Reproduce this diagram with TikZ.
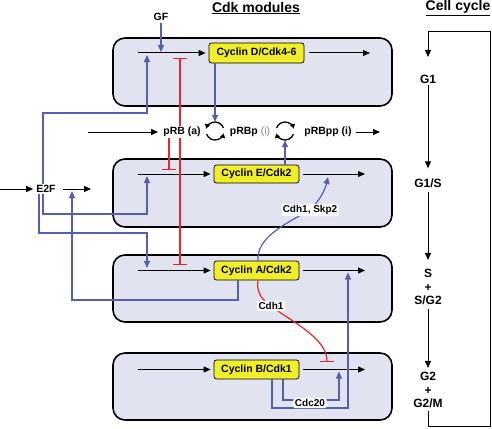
\documentclass[tikz,border=0pt]{standalone}
\usepackage{fontspec}
\setmainfont{Liberation Sans}
\usetikzlibrary{arrows.meta}
\definecolor{boxfill}{RGB}{225,227,241}
\definecolor{lblue}{RGB}{85,95,170}
\definecolor{lred}{RGB}{232,40,40}
\definecolor{cyel}{RGB}{240,238,40}
\begin{document}
\begin{tikzpicture}[x=1pt,y=-1pt,
  module/.style={draw=black, line width=1.6pt, fill=boxfill, rounded corners=12pt, minimum width=279pt, inner sep=0pt},
  cyc/.style={draw=black, line width=0.8pt, fill=cyel, rounded corners=2.5pt, font=\bfseries\fontsize{10.5}{12}\selectfont, minimum width=85pt, minimum height=19pt, inner sep=0pt},
  txt/.style={font=\bfseries\fontsize{10.5}{13.5}\selectfont, inner sep=1pt},
  phase/.style={font=\bfseries\fontsize{12}{13.5}\selectfont, inner sep=1pt, align=center},
  lbl/.style={font=\bfseries\fontsize{10}{12}\selectfont, fill=white, rounded corners=2pt, inner sep=1.5pt},
  blk/.style={draw=black, -{Triangle[length=7pt,width=6pt]}, line width=1pt},
  blu/.style={draw=lblue, -{Triangle[length=7pt,width=6pt]}, line width=1.2pt},
  inh/.style={draw=lred, -{Bar[width=14pt]}, line width=1.2pt},
  cyca/.style={draw=black, line width=1.3pt, -{Triangle[length=4.5pt,width=5pt]}},
  ttl/.style={font=\bfseries\fontsize{14}{16}\selectfont, inner sep=0pt}
]
\useasboundingbox (0,0) rectangle (492,428);

% titles
\node[ttl] (t1) at (256,8) {\underline{Cdk modules}};
\node[ttl] (t2) at (458,8) {\underline{Cell cycle}};

% module boxes
\node[module, minimum height=68pt] (m1) at (252.5,72) {};
\node[module, minimum height=68pt] (m2) at (252.5,193) {};
\node[module, minimum height=67pt] (m3) at (252.5,288.5) {};
\node[module, minimum height=67pt] (m4) at (252.5,386.5) {};

% cyclin nodes
\node[cyc, minimum width=95pt, minimum height=20pt] (cD) at (256.5,53) {Cyclin D/Cdk4-6};
\node[cyc, minimum height=18pt] (cE) at (256.5,174) {Cyclin E/Cdk2};
\node[cyc] (cA) at (256.5,270.5) {Cyclin A/Cdk2};
\node[cyc] (cB) at (256.5,369.5) {Cyclin B/Cdk1};

% coordinates
\coordinate (l1) at (138,53);
\coordinate (l2) at (138,174);
\coordinate (l3) at (138,270.5);
\coordinate (l4) at (138,369.5);
\coordinate (r1) at (370,53);
\coordinate (r2) at (365,174);
\coordinate (r3) at (365,270.5);
\coordinate (r4) at (365,369.5);

% horizontal arrows in modules
\draw[blk, shorten >=3pt] (l1) -- (cD);
\draw[blk, shorten >=3pt] (l2) -- (cE);
\draw[blk, shorten >=3pt] (l3) -- (cA);
\draw[blk, shorten >=3pt] (l4) -- (cB);
\draw[blk, shorten <=5pt] (cD) -- (r1);
\draw[blk, shorten <=4pt] (cE) -- (r2);
\draw[blk, shorten <=4pt] (cA) -- (r3);
\draw[blk, shorten <=4pt] (cB) -- (r4);

% GF
\node[txt] (gf) at (161,17) {GF};
\coordinate (gfT) at (161,52);
\draw[blu, shorten <=1pt] (gf) -- (gfT);

% E2F
\node[txt] (e2f) at (46,189) {E2F};
\coordinate (e2fin) at (0,189);
\coordinate (e2fout) at (91,189);
\draw[blk, shorten >=2pt] (e2fin) -- (e2f);
\draw[blk, shorten <=6pt] (e2f) -- (e2fout);

\coordinate (a1) at (147,55);
\coordinate (a2) at (147,176);
\coordinate (a3) at (147,268);
\coordinate (a4) at (72,191);
\draw[blu] (43,0 |- e2f.north) -- (43,113) -- (147,113) -- (a1);
\draw[blu] (43,0 |- e2f.south) -- (43,214) -- (147,214) -- (a2);
\draw[blu] (39,0 |- e2f.south) -- (39,233) -- (147,233) -- (a3);
\draw[blu] (238,0 |- cA.south) -- (238,300) -- (72,300) -- (a4);

% pRB row
\coordinate (pin) at (88,132);
\coordinate (pout) at (380,132);
\node[txt, fill=white] (prb) at (182,132) {pRB (a)};
\node[circle, minimum size=18pt, inner sep=0pt] (s1) at (215,131) {};
\node[txt] (prbp) at (250,132) {pRBp {\mdseries\color{gray}(i)}};
\node[circle, minimum size=18pt, inner sep=0pt] (s2) at (285,131) {};
\node[txt] (prbpp) at (328,132) {pRBpp (i)};
\draw[blk, shorten >=4pt] (pin) -- (prb);
\draw[blk, shorten <=3pt] (prbpp) -- (pout);

\draw[cyca] (s1.center) ++(160:9) arc[start angle=160, end angle=15, radius=9];
\draw[cyca] (s1.center) ++(-20:9) arc[start angle=-20, end angle=-165, radius=9];
\draw[cyca] (s2.center) ++(20:9) arc[start angle=20, end angle=165, radius=9];
\draw[cyca] (s2.center) ++(-160:9) arc[start angle=-160, end angle=-15, radius=9];

\draw[blu] (cD.south -| s1) -- (s1.north);
\draw[blu] (cE.north -| s2) -- (s2.south);

% pRB inhibitions
\coordinate (i1) at (180,58);
\coordinate (i2) at (169,170);
\coordinate (i3) at (180,265);
\draw[inh] (180,0 |- prb.north) -- (i1);
\draw[inh] (169,0 |- prb.south) -- (i2);
\draw[inh] (180,0 |- prb.south) -- (i3);

% Cdh1, Skp2
\coordinate (skc) at (310,210);
\coordinate (sk) at (328,177);
\draw[blu] (258,0 |- cA.north) .. controls (256,238) and (285,224) .. (skc) .. controls (320,200) and (325,190) .. (sk);
\node[lbl] (skp) at (skc) {Cdh1, Skp2};

% Cdh1 inhibition
\coordinate (cdhc) at (271,306);
\coordinate (tb) at (327,362);
\draw[inh] (258,0 |- cA.south) .. controls (256,292) and (262,300) .. (cdhc) .. controls (292,322) and (327,338) .. (tb);
\node[lbl] (cdh) at (cdhc) {Cdh1};

% Cdc20
\coordinate (o3) at (348,272.5);
\coordinate (o4) at (339,371.5);
\draw[blu] (272,0 |- cB.south) -- (272,408) -- (348,408) -- (o3);
\draw[blu] (283,0 |- cB.south) -- (283,400) -- (339,400) -- (o4);
\node[lbl] (cdc) at (310,403) {Cdc20};

% cell cycle
\node[phase] (g1) at (428,79) {G1};
\node[phase] (g1s) at (428,183) {G1/S};
\node[phase] (s) at (428,287) {S\\+\\S/G2};
\node[phase] (g2) at (428,390) {G2\\+\\G2/M};
\coordinate (lp) at (428,57);
\draw[blk, shorten <=1pt, shorten >=9pt] (g1) -- (g1s);
\draw[blk, shorten <=3pt, shorten >=8pt] (g1s) -- (s);
\draw[blk, shorten <=3pt, shorten >=3pt] (s) -- (g2);
\draw[blk] (g2.south) ++(0,2) -- (428,426) -- (490,426) -- (490,32) -- (428,32) -- (lp);
\end{tikzpicture}
\end{document}
